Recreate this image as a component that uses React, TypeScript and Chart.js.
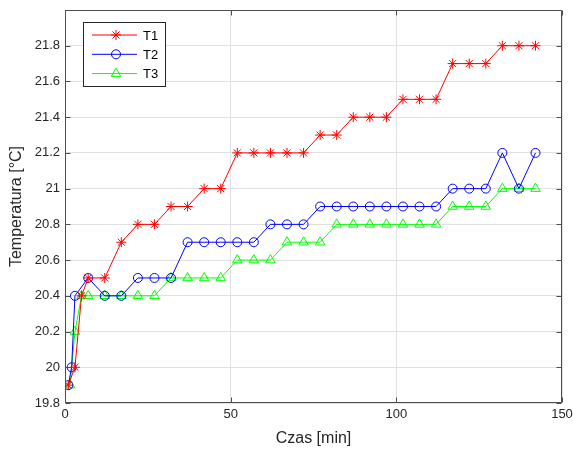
import React, { useEffect, useRef } from 'react';
import { Chart, registerables } from 'chart.js';
import { drawPoint } from 'chart.js/helpers';

Chart.register(...registerables);

// ---- data ----
const seriesNames = ['T1', 'T2', 'T3'];

const t1Time = [1, 3, 5, 7, 12, 17, 22, 27, 32, 37, 42, 47, 52, 57, 62, 67, 72, 77, 82, 87, 92, 97, 102, 107, 112, 117, 122, 127, 132, 137, 142];
const t1Temp = [19.9, 20.0, 20.4, 20.5, 20.5, 20.7, 20.8, 20.8, 20.9, 20.9, 21.0, 21.0, 21.2, 21.2, 21.2, 21.2, 21.2, 21.3, 21.3, 21.4, 21.4, 21.4, 21.5, 21.5, 21.5, 21.7, 21.7, 21.7, 21.8, 21.8, 21.8];

const t2Time = [1, 2, 3, 7, 12, 17, 22, 27, 32, 37, 42, 47, 52, 57, 62, 67, 72, 77, 82, 87, 92, 97, 102, 107, 112, 117, 122, 127, 132, 137, 142];
const t2Temp = [19.9, 20.0, 20.4, 20.5, 20.4, 20.4, 20.5, 20.5, 20.5, 20.7, 20.7, 20.7, 20.7, 20.7, 20.8, 20.8, 20.8, 20.9, 20.9, 20.9, 20.9, 20.9, 20.9, 20.9, 20.9, 21.0, 21.0, 21.0, 21.2, 21.0, 21.2];

const t3Time = [1.5, 3, 5, 7, 12, 17, 22, 27, 32, 37, 42, 47, 52, 57, 62, 67, 72, 77, 82, 87, 92, 97, 102, 107, 112, 117, 122, 127, 132, 137, 142];
const t3Temp = [19.9, 20.2, 20.4, 20.4, 20.4, 20.4, 20.4, 20.4, 20.5, 20.5, 20.5, 20.5, 20.6, 20.6, 20.6, 20.7, 20.7, 20.7, 20.8, 20.8, 20.8, 20.8, 20.8, 20.8, 20.8, 20.9, 20.9, 20.9, 21.0, 21.0, 21.0];

const xTicks = [0, 50, 100, 150];
const yTicks = [19.8, 20, 20.2, 20.4, 20.6, 20.8, 21, 21.2, 21.4, 21.6, 21.8];
const yTickLabels = ['19.8', '20', '20.2', '20.4', '20.6', '20.8', '21', '21.2', '21.4', '21.6', '21.8'];
const xLabel = 'Czas [min]';
const yLabel = 'Temperatura [°C]';

const colors = ['#ff0000', '#0000ff', '#00ff00'];
const pointStyles = ['star', 'circle', 'triangle'];
const pointSizes = [5, 4.5, 5.5];

const FONT = '"Liberation Sans", Arial, Helvetica, sans-serif';

const axesPlugin = {
  id: 'matlabAxes',
  afterDraw(chart: any) {
    const { ctx, chartArea } = chart;
    const { left, right, top, bottom } = chartArea;
    const xs = chart.scales.x;
    const ys = chart.scales.y;
    ctx.save();
    ctx.strokeStyle = '#4d4d4d';
    ctx.lineWidth = 1;
    const L = Math.round(left) + 0.5;
    const R = Math.round(right) - 0.5;
    const T = Math.round(top) + 0.5;
    const B = Math.round(bottom) - 0.5;
    ctx.beginPath();
    ctx.rect(L, T, R - L, B - T);
    ctx.stroke();
    const tl = 5;
    ctx.beginPath();
    yTicks.forEach((v) => {
      const y = Math.round(ys.getPixelForValue(v)) + 0.5;
      ctx.moveTo(L, y); ctx.lineTo(L + tl, y);
      ctx.moveTo(R, y); ctx.lineTo(R - tl, y);
    });
    xTicks.forEach((v) => {
      const x = Math.round(xs.getPixelForValue(v)) + 0.5;
      ctx.moveTo(x, B); ctx.lineTo(x, B - tl);
      ctx.moveTo(x, T); ctx.lineTo(x, T + tl);
    });
    ctx.stroke();

    // legend box
    const x0 = 83, y0 = 22, w = 82, h = 64;
    ctx.fillStyle = '#ffffff';
    ctx.fillRect(x0, y0, w, h);
    ctx.strokeStyle = '#262626';
    ctx.strokeRect(x0 + 0.5, y0 + 0.5, w, h);
    chart.data.datasets.forEach((ds: any, i: number) => {
      const y = y0 + 13 + i * 19.3;
      ctx.strokeStyle = ds.borderColor;
      ctx.lineWidth = 1;
      ctx.beginPath();
      ctx.moveTo(x0 + 9, y);
      ctx.lineTo(x0 + 54, y);
      ctx.stroke();
      ctx.fillStyle = 'rgba(0,0,0,0)';
      ctx.strokeStyle = ds.pointBorderColor;
      drawPoint(ctx, { pointStyle: ds.pointStyle, radius: ds.pointRadius, rotation: 0, borderWidth: 1 }, x0 + 33, y);
      ctx.fillStyle = '#000000';
      ctx.font = `13px ${FONT}`;
      ctx.textBaseline = 'middle';
      ctx.textAlign = 'left';
      ctx.fillText(ds.label, x0 + 60, y + 1);
    });
    ctx.restore();
  },
};

export default function App() {
  const ref = useRef<HTMLCanvasElement | null>(null);
  useEffect(() => {
    document.body.style.margin = '0';
    if (!ref.current) return;
    const times = [t1Time, t2Time, t3Time];
    const temps = [t1Temp, t2Temp, t3Temp];
    const chart = new Chart(ref.current, {
      type: 'line',
      data: {
        datasets: seriesNames.map((name, i) => ({
          label: name,
          data: times[i].map((t, k) => ({ x: t, y: temps[i][k] })),
          borderColor: colors[i],
          backgroundColor: 'rgba(0,0,0,0)',
          borderWidth: 1,
          pointStyle: pointStyles[i],
          pointRadius: pointSizes[i],
          pointBorderColor: colors[i],
          pointBackgroundColor: 'rgba(0,0,0,0)',
          pointBorderWidth: 1,
          tension: 0,
          fill: false,
        })),
      },
      options: {
        animation: false,
        responsive: false,
        devicePixelRatio: 1,
        layout: { padding: { left: 0, top: 10, right: 11, bottom: 0 } },
        plugins: { legend: { display: false }, tooltip: { enabled: false } },
        scales: {
          x: {
            type: 'linear',
            min: 0,
            max: 150,
            afterBuildTicks: (s: any) => { s.ticks = xTicks.map((v) => ({ value: v })); },
            afterFit: (s: any) => { s.height = 49; s.paddingLeft = 0; s.paddingRight = 0; },
            border: { display: false },
            grid: { color: '#e1e1e1', lineWidth: 1, drawTicks: false },
            ticks: { color: '#262626', font: { family: FONT, size: 13 }, padding: 4, maxRotation: 0 },
            title: { display: true, text: xLabel, color: '#262626', font: { family: FONT, size: 16 }, padding: { top: 0, bottom: 4 } },
          },
          y: {
            type: 'linear',
            min: 19.8,
            max: 22,
            afterBuildTicks: (s: any) => { s.ticks = yTicks.map((v) => ({ value: v })); },
            afterFit: (s: any) => { s.width = 65; s.paddingTop = 0; s.paddingBottom = 0; },
            border: { display: false },
            grid: { color: '#e1e1e1', lineWidth: 1, drawTicks: false },
            ticks: {
              color: '#262626',
              font: { family: FONT, size: 13 },
              padding: 5,
              callback: (v: any) => {
                const idx = yTicks.findIndex((t) => Math.abs(t - Number(v)) < 1e-6);
                return idx >= 0 ? yTickLabels[idx] : '';
              },
            },
            title: { display: true, text: yLabel, color: '#262626', font: { family: FONT, size: 16 }, padding: { top: 7, bottom: 0 } },
          },
        },
      },
      plugins: [axesPlugin],
    } as any);
    return () => chart.destroy();
  }, []);
  return (
    <div style={{ width: 573, height: 452, background: '#ffffff' }}>
      <canvas ref={ref} width={573} height={452} style={{ display: 'block' }} />
    </div>
  );
}
